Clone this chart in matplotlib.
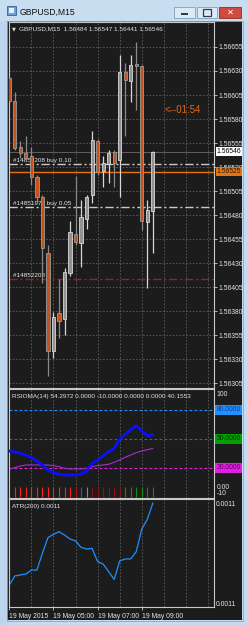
import matplotlib
matplotlib.use('Agg')
import matplotlib.pyplot as plt
from matplotlib.patches import Rectangle
from matplotlib.ticker import FixedLocator, FixedFormatter

# ---------------- data ----------------
opens  = [1.56623, 1.56599, 1.56551, 1.56545, 1.56541, 1.56520, 1.56499, 1.56441, 1.56339,
          1.56378, 1.56372, 1.56420, 1.56460, 1.56451, 1.56476, 1.56501, 1.56557, 1.56526,
          1.56533, 1.56546, 1.56537, 1.56629, 1.56620, 1.56637, 1.56635, 1.56473, 1.56484]
highs  = [1.56625, 1.56608, 1.56557, 1.56562, 1.56551, 1.56522, 1.56501, 1.56449, 1.56379,
          1.56413, 1.56425, 1.56474, 1.56521, 1.56496, 1.56501, 1.56568, 1.56559, 1.56541,
          1.56548, 1.56548, 1.56647, 1.56638, 1.56647, 1.56660, 1.56636, 1.56496, 1.56547]
lows   = [1.56596, 1.56548, 1.56539, 1.56537, 1.56511, 1.56493, 1.56409, 1.56313, 1.56331,
          1.56352, 1.56355, 1.56417, 1.56449, 1.56426, 1.56466, 1.56493, 1.56522, 1.56509,
          1.56513, 1.56509, 1.56499, 1.56562, 1.56598, 1.56589, 1.56464, 1.56404, 1.56441]
closes = [1.56599, 1.56550, 1.56545, 1.56539, 1.56520, 1.56499, 1.56446, 1.56339, 1.56374,
          1.56370, 1.56421, 1.56462, 1.56452, 1.56478, 1.56499, 1.56558, 1.56525, 1.56534,
          1.56545, 1.56534, 1.56629, 1.56621, 1.56636, 1.56635, 1.56474, 1.56485, 1.56546]

price_ticks = [1.56305, 1.56330, 1.56355, 1.56380, 1.56405, 1.56430, 1.56455, 1.56480,
               1.56505, 1.56530, 1.56555, 1.56580, 1.56605, 1.56630, 1.56655]
bid_price = 1.56546
orange_price = 1.56525
order_prices = [1.56533, 1.56488]
order_labels = ['#14852208 buy 0.10', '#14851973 buy 0.05']
sl_price = 1.56413
sl_label = '#14852208 sl'
timer_label = '<--01:54'

rsioma = [37.5, 36.5, 35.2, 33.4, 30.6, 27.2, 23.1, 17.9, 15.1, 13.4, 12.7, 12.7, 12.7, 13.8,
          16.9, 24.8, 28.2, 32.7, 36.8, 40.3, 50.0, 54.8, 59.3, 63.7, 58.2, 53.4, 54.3]
rsioma_ma = [18.9, 20.3, 22.0, 23.1, 23.1, 23.1, 23.1, 23.1, 22.4, 21.3, 19.6, 19.0, 19.0, 19.0,
             19.6, 21.3, 22.4, 23.1, 23.8, 25.8, 28.2, 31.0, 33.4, 35.8, 37.5, 38.9, 40.2]
hist_value = -10
hist_colors = ['#ff2020'] * 12 + ['#b01010', '#1c5fc0', '#3a9cff'] + ['#8b1010'] * 6 + ['#178a17'] * 6
rsi_levels = [80, 50, 20]
rsi_level_colors = ['#1e90ff', '#00a000', '#e020e0']
rsi_level_text = ['#0b3f80', '#002a00', '#600060']

atr = [0.0010909, 0.0010964, 0.0010970, 0.0010976, 0.0011000, 0.0011000, 0.0011101, 0.0011196,
       0.0011216, 0.0011232, 0.0011212, 0.0011188, 0.0011176, 0.0011137, 0.0011127, 0.0011131,
       0.0011051, 0.0011036, 0.0010990, 0.0010943, 0.0011055, 0.0011067, 0.0011067, 0.0011111,
       0.0011248, 0.0011307, 0.0011404]
atr_ticks = [0.00108, 0.00114]

date_pos = [0, 8, 16, 24]
date_labels = ['19 May 2015', '19 May 05:00', '19 May 07:00', '19 May 09:00']
header = 'GBPUSD,M15  1.56484 1.56547 1.56441 1.56546'
rsi_header = 'RSIOMA(14) 54.2972 0.0000 -10.0000 0.0000 0.0000 40.1553'
atr_header = 'ATR(200) 0.0011'

# ---------------- layout helpers ----------------
W, H = 248, 625
FONT = ['Liberation Sans', 'DejaVu Sans']
plt.rcParams['font.family'] = FONT
fig = plt.figure(figsize=(W / 100, H / 100), dpi=100, facecolor='#c6dbf0')


def frac(x0, y0, x1, y1):
    return [x0 / W, 1 - y1 / H, (x1 - x0) / W, (y1 - y0) / H]


def prect(x0, y0, x1, y1, z=-5, **kw):
    fig.add_artist(Rectangle((x0 / W, 1 - y1 / H), (x1 - x0) / W, (y1 - y0) / H,
                             transform=fig.transFigure, zorder=z, **kw))


def ptext(x, y, s, **kw):
    fig.text(x / W, 1 - y / H, s, **kw)


BG = '#1c1c1c'
FR = '#c8c8c8'
GRID = '#5e5e5e'
TXT = '#e4e4e4'
FS = 4.9
FSH = 4.6

# window chrome
prect(0, 0, 248, 21, fc='#c9ddf1', ec='none')
prect(0, 21, 7, 625, fc='#bcd4ee', ec='none')
prect(7, 21, 242, 620, fc=BG, ec='none')
prect(6.5, 20.5, 242.5, 620.5, fc='none', ec='#8aa6c4', lw=0.6)
# title icon
prect(7, 6, 16, 15, fc='#6f9fd8', ec='#2f5f9f', lw=0.6)
prect(9, 8, 14, 13, fc='#e8f0fa', ec='none', z=-4)
ptext(20, 12, 'GBPUSD,M15', fontsize=6.2, color='#101010', va='center', ha='left')
# buttons
prect(174, 7, 195, 18, fc='#dce9f6', ec='#7f9dbf', lw=0.6)
prect(181, 13, 188, 14.5, fc='#303a48', ec='none', z=-4)
prect(197, 7, 217, 18, fc='#dce9f6', ec='#7f9dbf', lw=0.6)
prect(203, 9.5, 211, 15.5, fc='none', ec='#303a48', lw=0.9, z=-4)
prect(219, 7, 241, 18, fc='#d24a3c', ec='#8f2a22', lw=0.6)
ptext(230, 12.5, '✕', fontsize=6, color='white', ha='center', va='center', fontweight='bold',
      family='DejaVu Sans')

XL = (-0.15, 37.0)
grid_x = list(range(4, 37, 4))


def style_axes(ax):
    ax.set_facecolor(BG)
    for sp in ax.spines.values():
        sp.set_color(FR)
        sp.set_linewidth(0.8)
    ax.set_xlim(*XL)
    ax.tick_params(axis='both', colors=FR, labelcolor=TXT, labelsize=FS, length=2, width=0.6, pad=1.5)
    ax.set_xticks([])
    for gx in grid_x:
        ax.axvline(gx, color=GRID, lw=0.6, ls=(0, (2, 2)), zorder=0.5)


# ---------------- main panel ----------------
ax = fig.add_axes(frac(8.5, 22, 213.5, 388))
style_axes(ax)
ax.set_ylim(1.56300, 1.56681)
ax.yaxis.tick_right()
ax.set_yticks(price_ticks)
ax.set_yticklabels(['%.5f' % p for p in price_ticks])
for p in price_ticks:
    ax.axhline(p, color=GRID, lw=0.6, ls=(0, (2, 2)), zorder=0.5)

# horizontal lines
ax.axhline(bid_price, color='#6a6a6a', lw=0.6, zorder=1)
ax.axhline(orange_price, color='#e8730f', lw=1.0, zorder=1.2)
for p in order_prices:
    ax.axhline(p, color='#c8c8c8', lw=1.0, ls=(0, (6, 2, 1.5, 2)), zorder=1.1)
ax.axhline(sl_price, color='#b01818', lw=1.0, ls=(0, (6, 2, 1.5, 2)), zorder=1.1)

for p, lab in zip(order_prices, order_labels):
    ax.text(0.67, p + 0.00004, lab, fontsize=FSH, color=TXT, ha='left', va='center', zorder=1.5)
ax.text(0.67, sl_price + 0.00004, sl_label, fontsize=FSH, color=TXT, ha='left', va='center', zorder=1.5)
ax.text(28.2, 1.56589, timer_label, fontsize=7, color='#e0671c', ha='left', va='center')

# candles
bw = 0.58
for i, (o, h, l, c) in enumerate(zip(opens, highs, lows, closes)):
    bull = c >= o
    wick = '#d6d6d6' if bull else '#8a8a8a'
    ax.vlines(i, l, h, color=wick, lw=0.9, zorder=2)
    fc = '#929292' if bull else '#c4521c'
    ec = '#d8d8d8' if bull else '#9a9a9a'
    ax.add_patch(Rectangle((i - bw / 2, min(o, c)), bw, max(abs(c - o), 0.000015),
                           fc=fc, ec=ec, lw=0.6, zorder=3))

# price labels on axis
ax.text(1.015, bid_price, '%.5f' % bid_price, transform=ax.get_yaxis_transform(), fontsize=FS,
        color='black', va='center', ha='left', zorder=5,
        bbox=dict(boxstyle='square,pad=0.15', fc='white', ec='none'))
ax.text(1.015, orange_price, '%.5f' % orange_price, transform=ax.get_yaxis_transform(), fontsize=FS,
        color='#1a1a1a', va='center', ha='left', zorder=5,
        bbox=dict(boxstyle='square,pad=0.15', fc='#e8730f', ec='none'))

# header
ptext(12, 28.5, '▼', fontsize=3.6, color=TXT, va='center', ha='left', family='DejaVu Sans')
ptext(19, 28.5, header, fontsize=FSH, color=TXT, va='center', ha='left')

# ---------------- RSIOMA panel ----------------
ax2 = fig.add_axes(frac(8.5, 389, 213.5, 498))
style_axes(ax2)
ax2.set_ylim(-11.1, 101.7)
ax2.set_yticks([])
xs = list(range(len(rsioma)))
for lv, lc in zip(rsi_levels, rsi_level_colors):
    ax2.axhline(lv, color=lc, lw=0.8, ls=(0, (2.5, 2)), zorder=1)
ax2.vlines(xs, hist_value, 0, colors=hist_colors, lw=0.8, zorder=1.5)
ax2.plot(xs, rsioma_ma, color='#a030d0', lw=0.8, zorder=2)
ax2.plot(xs, rsioma, color='#0a10ff', lw=2.0, zorder=3, solid_capstyle='round')
ax2.text(0.017, 0.93, rsi_header, transform=ax2.transAxes, fontsize=FSH, color=TXT, ha='left', va='center')
yt = ax2.get_yaxis_transform()
ax2.text(1.015, 100, '100', transform=yt, fontsize=FS, color=TXT, ha='left', va='top')
ax2.text(1.015, 0, '0.00', transform=yt, fontsize=FS, color=TXT, ha='left', va='center')
ax2.text(1.015, -10, '-10', transform=yt, fontsize=FS, color=TXT, ha='left', va='bottom')
for lv, lc, tc in zip(rsi_levels, rsi_level_colors, rsi_level_text):
    ax2.text(1.015, lv, '%.4f' % lv, transform=yt, fontsize=FS, color=tc, ha='left', va='center',
             bbox=dict(boxstyle='square,pad=0.2', fc=lc, ec='none'))

# ---------------- ATR panel ----------------
ax3 = fig.add_axes(frac(8.5, 499, 213.5, 607))
style_axes(ax3)
ax3.set_ylim(0.0010776, 0.0011430)
ax3.yaxis.tick_right()
ax3.yaxis.set_major_locator(FixedLocator(atr_ticks))
ax3.yaxis.set_major_formatter(FixedFormatter(['%.4f' % v for v in atr_ticks]))
ax3.tick_params(axis='y', length=0)
ax3.plot(list(range(len(atr))), atr, color='#1e90ff', lw=0.9)
ax3.text(0.017, 0.93, atr_header, transform=ax3.transAxes, fontsize=FSH, color=TXT, ha='left', va='center')
ax3.set_xticks(date_pos)
ax3.set_xticklabels(date_labels)
ax3.tick_params(axis='x', length=2.5, pad=1.5)
for t in ax3.get_xticklabels():
    t.set_horizontalalignment('left')

fig.savefig('out.png', dpi=100, facecolor=fig.get_facecolor())
